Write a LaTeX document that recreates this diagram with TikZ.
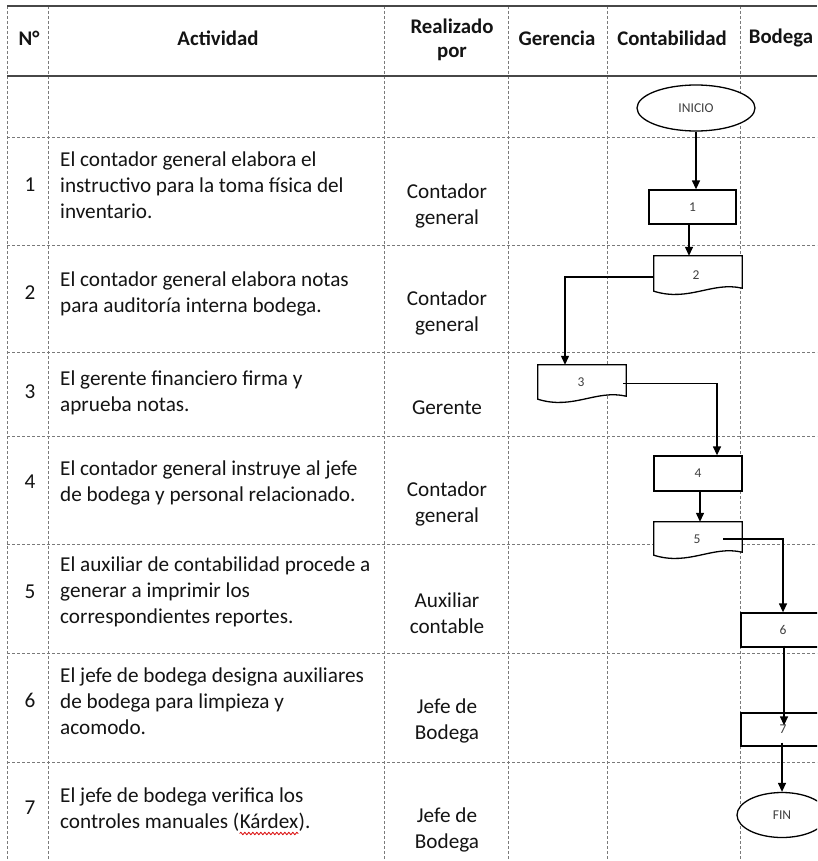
\documentclass[tikz,border=0pt]{standalone}
\usepackage{fontspec}
\setmainfont{Carlito}
\usetikzlibrary{arrows.meta,shapes.geometric,calc,decorations.pathmorphing}

% document outline (wavy bottom) around a named node
\newcommand\docoutline[1]{%
  \draw[box] (#1.north west) -- (#1.north east) -- (#1.south east)
    .. controls ($(#1.south east)+(-30,-7)$) and ($(#1.south west)+(35,14)$) ..
    ($(#1.south west)+(0,3)$) -- cycle;}

\begin{document}
\begin{tikzpicture}[x=1pt,y=-1pt,
  grid/.style={draw=black!52, line width=0.9pt, dash pattern=on 3pt off 2pt},
  rule/.style={draw=black!72, line width=1.5pt},
  hdr/.style={font=\bfseries\fontsize{20.8}{24}\selectfont, align=center, inner sep=0pt, text=black!92},
  cell/.style={font=\fontsize{21.2}{26}\selectfont, inner sep=0pt, text=black!92},
  act/.style={cell, anchor=west, align=left},
  who/.style={cell, align=center},
  num/.style={cell},
  box/.style={draw=black, line width=1.3pt, fill=white},
  procbox/.style={rectangle, minimum width=#1, inner sep=0pt},
  term/.style={ellipse, box, inner sep=0pt},
  lbl/.style={font=\fontsize{13.5}{15}\selectfont, text=black!75},
  flow/.style={draw=black, line width=1.3pt, -{Triangle[length=9pt,width=8pt]}},
  spell/.style={draw=red!85!black, line width=0.8pt, decorate,
    decoration={snake, amplitude=1.2pt, segment length=4pt}}
]
\useasboundingbox (0,0) rectangle (817,861);
\clip (0,0) rectangle (817,861);
\fill[white] (0,0) rectangle (817,861);

% table grid
\foreach \y in {137,245,352,436,544,653,762}
  \draw[grid] (7,\y) -- (817,\y);
\foreach \x in {7,48,384,508,607,740}
  \draw[grid] (\x,6) -- (\x,861);
\draw[rule] (7,6) -- (817,6);
\draw[rule] (7,76) -- (817,76);

% header
\node[hdr] (hN) at (29,38) {N°};
\node[hdr] (hAct) at (218,38) {Actividad};
\node[hdr] (hPor) at (452,40) {Realizado\\por};
\node[hdr] (hGer) at (557,38) {Gerencia};
\node[hdr] (hCon) at (672,38) {Contabilidad};
\node[hdr] (hBod) at (781,38) {Bodega};

% step numbers
\node[num] (n1) at (30,185) {1};
\node[num] (n2) at (30,293) {2};
\node[num] (n3) at (30,392) {3};
\node[num] (n4) at (30,482) {4};
\node[num] (n5) at (30,592) {5};
\node[num] (n6) at (30,700) {6};
\node[num] (n7) at (30,808) {7};

% activities
\node[act] (a1) at (60,185.5) {El contador general elabora el\\instructivo para la toma física del\\inventario.};
\node[act] (a2) at (60,293.5) {El contador general elabora notas\\para auditoría interna bodega.};
\node[act] (a3) at (60,392.5) {El gerente financiero firma y\\aprueba notas.};
\node[act] (a4) at (60,483) {El contador general instruye al jefe\\de bodega y personal relacionado.};
\node[act] (a5) at (60,592) {El auxiliar de contabilidad procede a\\generar a imprimir los\\correspondientes reportes.};
\node[act] (a6) at (60,701) {El jefe de bodega designa auxiliares\\de bodega para limpieza y\\acomodo.};
\node[cell, anchor=base west] (a7) at (60,802.5) {El jefe de bodega verifica los};
\node[cell, anchor=base west] (a7b) at (60,828.5) {controles manuales (};
\node[cell, anchor=base west] (kx) at (a7b.base east) {Kárdex};
\node[cell, anchor=base west] (a7c) at (kx.base east) {).};
\draw[spell] ($(kx.base west)+(0,5)$) -- ($(kx.base east)+(0,5)$);

% performed by
\node[who] (w1) at (447,206) {Contador\\general};
\node[who] (w2) at (447,313) {Contador\\general};
\node[who] (w3) at (447,408) {Gerente};
\node[who] (w4) at (447,504) {Contador\\general};
\node[who] (w5) at (447,613) {Auxiliar\\contable};
\node[who] (w6) at (447,721) {Jefe de\\Bodega};
\node[who] (w7) at (447,830) {Jefe de\\Bodega};

% flowchart shapes
\node[term, minimum width=118, minimum height=46, lbl] (inicio) at (696,108) {INICIO};
\node[procbox=87, minimum height=34, box, lbl] (b1) at (692.5,207) {1};
\node[procbox=88, minimum height=32] (b2) at (698,272) {};
\node[procbox=88, minimum height=31] (b3) at (582,380.5) {};
\node[procbox=88, minimum height=35, box, lbl] (b4) at (698,473.5) {4};
\node[procbox=88, minimum height=30] (b5) at (698,537) {};
\node[procbox=84, minimum height=34, box, lbl] (b6) at (783,630) {6};
\node[procbox=84, minimum height=33, box, lbl] (b7) at (783,729.5) {7};
\node[term, minimum width=90, minimum height=45, lbl] (fin) at (782,815) {FIN};

\docoutline{b2}
\docoutline{b3}
\docoutline{b5}
\node[lbl] (t2) at ($(b2.center)+(-2,3)$) {2};
\node[lbl] (t3) at ($(b3.center)+(-1,2)$) {3};
\node[lbl] (t5) at ($(b5.center)+(-1,2)$) {5};

% connector end points
\coordinate (c1) at ($(b1.south)+(-3.5,0)$);
\coordinate (c2) at ($(b2.west)+(0,5)$);
\coordinate (c3) at ($(b3.north)+(-17,0)$);
\coordinate (c4) at ($(b3.east)+(-3,3)$);
\coordinate (c5) at ($(b4.north)+(19,0)$);
\coordinate (c6) at ($(b4.south)+(2,0)$);
\coordinate (c7) at ($(b5.center)+(25,2)$);
\coordinate (c8) at ($(b6.south)+(1,-2)$);
\coordinate (c9) at ($(b7.north)+(1,13)$);
\coordinate (c10) at ($(b7.south)+(-1,-4)$);

% connectors
\draw[flow] (inicio.south) -- (inicio.south |- b1.north);
\draw[flow] (c1) -- (c1 |- b2.north);
\draw[flow] (c2) -| (c3);
\draw[flow] (c4) -| (c5);
\draw[flow] (c6) -- (c6 |- b5.north);
\draw[flow] (c7) -| (b6.north);
\draw[flow] (c8) -- (c9);
\draw[flow] (c10) -- (c10 |- fin.north);
\end{tikzpicture}
\end{document}
